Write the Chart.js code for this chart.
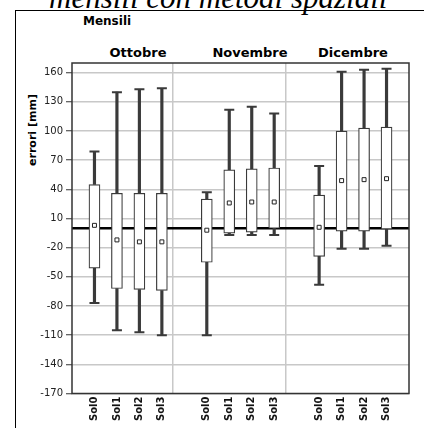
<!DOCTYPE html>
<html>
<head>
<meta charset="utf-8">
<script src="https://cdn.jsdelivr.net/npm/chart.js@4"></script>
<style>
  html, body { margin: 0; padding: 0; background: #fff; }
  #wrap { position: relative; width: 424px; height: 428px; overflow: hidden; }
  #wrap canvas { position: absolute; left: 0; top: 0; }
  .frame { position: absolute; left: 15px; top: 10px; width: 430px; height: 440px;
           border-left: 1px solid #000; border-top: 1px solid #000; }
  .title { position: absolute; left: 49px; top: -18.5px; white-space: nowrap;
           font: italic 31px/31px "Liberation Serif", serif; color: #000; }
  .lbl { position: absolute; white-space: nowrap; font-family: "DejaVu Sans", sans-serif;
         font-weight: bold; color: #000; }
  .month { font-size: 13px; line-height: 14px; top: 46px; transform: translateX(-50%); }
</style>
</head>
<body>
<div id="wrap">
  <div class="title">mensili con metodi spaziali</div>
  <div class="frame"></div>
  <div class="lbl" style="left:83px; top:14px; font-size:12px; line-height:14px;">Mensili</div>
  <div class="lbl month" style="left:138px;">Ottobre</div>
  <div class="lbl month" style="left:250px;">Novembre</div>
  <div class="lbl month" style="left:353px;">Dicembre</div>
  <div class="lbl" style="left:33px; top:130px; font-size:11px; line-height:12px;
       transform: translate(-50%, -50%) rotate(-90deg);">errori [mm]</div>
  <canvas id="boxChart" width="424" height="428"></canvas>
</div>

<script>
// Data
const months = ['Ottobre', 'Novembre', 'Dicembre'];
const solutions = ['Sol0', 'Sol1', 'Sol2', 'Sol3'];

// one row per month, one value per solution
const maxVals  = [[79, 140, 143, 144], [37, 122, 125, 118], [64, 161, 163, 164]];
const q3Vals   = [[45, 36, 36, 36],    [30, 60, 61, 62],    [34, 100, 103, 104]];
const meanVals = [[3, -12, -14, -14],  [-2, 26, 27, 27],    [1, 49, 50, 51]];
const q1Vals   = [[-41, -62, -63, -64], [-35, -5, -4, 0],   [-29, -3, -3, -1]];
const minVals  = [[-77, -105, -107, -110], [-110, -7, -7, -7], [-58, -21, -21, -18]];

const yTicks = [160, 130, 100, 70, 40, 10, -20, -50, -80, -110, -140, -170];

// category slots: an empty slot before each month and one at the end
const labels = [''];
months.forEach(() => { labels.push(...solutions, ''); });

function spread(rows) {
    const out = [null];
    rows.forEach(row => { out.push(...row, null); });
    return out;
}

function pairs(lows, highs) {
    return spread(lows.map((row, m) => row.map((v, i) => [v, highs[m][i]])));
}

const ink = '#3a3a3a';

const framePlugin = {
    id: 'frame',
    beforeDatasetsDraw(chart) {
        const { ctx, chartArea: a, scales } = chart;
        const y0 = scales.y.getPixelForValue(0);
        ctx.save();
        ctx.strokeStyle = '#000';
        ctx.lineWidth = 2.5;
        ctx.beginPath();
        ctx.moveTo(a.left, y0);
        ctx.lineTo(a.right, y0);
        ctx.stroke();
        ctx.strokeStyle = '#333';
        ctx.lineWidth = 1.5;
        ctx.strokeRect(a.left, a.top, a.right - a.left, a.bottom - a.top);
        ctx.restore();
    }
};

const whisker = {
    backgroundColor: ink,
    barThickness: 2.5,
    grouped: false,
    order: 5
};

const capStyle = {
    type: 'line',
    showLine: false,
    pointStyle: 'line',
    pointRadius: 5,
    pointBorderWidth: 2,
    borderColor: ink,
    order: 2
};

new Chart(document.getElementById('boxChart'), {
    type: 'bar',
    data: {
        labels: labels,
        datasets: [
            { ...whisker, label: 'upper', data: pairs(q3Vals, maxVals) },
            { ...whisker, label: 'lower', data: pairs(minVals, q1Vals) },
            {
                label: 'box',
                data: pairs(q1Vals, q3Vals),
                backgroundColor: '#ffffff',
                borderColor: ink,
                borderWidth: 1.2,
                borderSkipped: false,
                barThickness: 11,
                grouped: false,
                order: 4
            },
            { ...capStyle, label: 'max', data: spread(maxVals) },
            { ...capStyle, label: 'min', data: spread(minVals) },
            {
                type: 'line',
                label: 'media',
                data: spread(meanVals),
                showLine: false,
                pointStyle: 'rect',
                pointRadius: 2.8,
                pointBackgroundColor: '#fff',
                pointBorderColor: '#222',
                pointBorderWidth: 1,
                order: 1
            }
        ]
    },
    options: {
        responsive: false,
        animation: false,
        layout: { padding: { top: 63, right: 4, left: 0, bottom: 0 } },
        plugins: {
            legend: { display: false },
            tooltip: { enabled: false }
        },
        scales: {
            x: {
                type: 'category',
                offset: false,
                border: { display: false },
                grid: {
                    drawTicks: false,
                    lineWidth: 1.5,
                    color: (c) => (c.index === 5 || c.index === 10) ? '#c8c8c8' : 'rgba(0,0,0,0)'
                },
                ticks: {
                    autoSkip: false,
                    minRotation: 90,
                    maxRotation: 90,
                    padding: 3,
                    color: '#111',
                    font: { family: 'DejaVu Sans', size: 10, weight: 'bold' }
                },
                afterFit: (s) => { s.height = 34.5; }
            },
            y: {
                min: -170,
                max: 170,
                border: { display: false },
                grid: {
                    color: '#c8c8c8',
                    lineWidth: 1.5,
                    tickColor: '#333',
                    tickLength: 6,
                    tickWidth: 1
                },
                ticks: {
                    padding: 3,
                    color: '#222',
                    font: { family: 'DejaVu Sans', size: 10 }
                },
                afterBuildTicks: (s) => { s.ticks = yTicks.map(v => ({ value: v })); },
                afterFit: (s) => { s.width = 72; }
            }
        }
    },
    plugins: [framePlugin]
});
</script>
</body>
</html>
